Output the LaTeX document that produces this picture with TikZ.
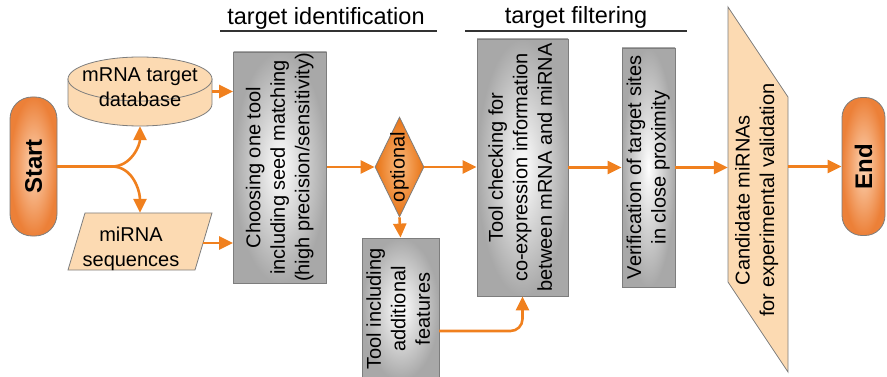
\documentclass[tikz,border=0pt]{standalone}
\usepackage{fontspec}
\setmainfont{Liberation Sans}
\usetikzlibrary{arrows.meta,shapes.geometric,calc}
\definecolor{arrorange}{RGB}{240,128,30}
\definecolor{pillout}{RGB}{236,128,56}
\definecolor{pillin}{RGB}{252,212,180}
\definecolor{dmout}{RGB}{232,115,20}
\definecolor{dmin}{RGB}{250,185,125}
\definecolor{peach}{RGB}{252,218,178}
\definecolor{boxgray}{RGB}{168,168,168}
\definecolor{edgegray}{RGB}{125,125,125}
\newcommand\rtext[1]{\rotatebox{90}{\begin{tabular}{@{}c@{}}#1\end{tabular}}}
\begin{document}
\begin{tikzpicture}[x=1pt,y=-1pt,
  arr/.style={draw=arrorange, line width=2.6pt, -{Triangle[length=14pt,width=13pt]}},
  plainline/.style={draw=arrorange, line width=2.6pt},
  graybox/.style={draw=edgegray, line width=0.8pt, inner color=white, outer color=boxgray, inner sep=0pt, align=center,
    font=\fontsize{20}{24.5}\selectfont},
  pill/.style={draw=edgegray, line width=0.8pt, inner color=pillin, outer color=pillout, inner sep=0pt,
    font=\fontsize{24}{28}\selectfont\bfseries},
  peachshape/.style={draw=edgegray, line width=0.8pt, fill=peach},
  ghost/.style={draw=none, inner sep=0pt},
  txt/.style={font=\fontsize{20}{24.5}\selectfont, align=center, inner sep=0pt},
  titletxt/.style={font=\fontsize{23.5}{28}\selectfont, inner sep=0pt},
  uline/.style={draw=black!80, line width=1.2pt}]
\useasboundingbox (0,0) rectangle (887,377);

% titles
\node[titletxt] (t1) at (326,18) {target identification};
\node[titletxt] (t2) at (576,17) {target filtering};
\draw[uline] (220,31) -- (437,31);
\draw[uline] (465,31) -- (687,31);

% start / end
\node[pill, rounded corners=22pt, minimum width=47, minimum height=139] (start) at (33.5,166.5) {\rotatebox{90}{Start}};
\node[pill, rounded corners=20pt, minimum width=43, minimum height=138] (end) at (863.5,166.5) {\rotatebox{90}{End}};

% database cylinder
\path[peachshape] (68,79) -- (68,104) arc[start angle=180, end angle=0, x radius=72, y radius=22] -- (212,79) -- cycle;
\path[peachshape] (140,79) ellipse[x radius=72, y radius=22];
\node[ghost, minimum width=144, minimum height=69] (db) at (140,91.5) {};
\node[txt] (dbtext) at (140,87) {mRNA target\\database};

% miRNA parallelogram
\path[peachshape] (85,213) -- (212,213) -- (195,270) -- (68,270) -- cycle;
\node[ghost, minimum width=144, minimum height=57] (mirna) at (140,241.5) {};
\node[txt] (mirnatext) at (131,249) {miRNA\\sequences};
\coordinate (mout) at (203,243);

% gray boxes
\node[graybox, minimum width=93, minimum height=231] (choose) at (280,167.5)
  {\rtext{Choosing one tool\\including seed matching\\(high precision/sensitivity)}};
\node[graybox, minimum width=77, minimum height=142] (tool) at (400.5,309)
  {\rtext{Tool including\\additional\\features}};
\node[graybox, minimum width=91, minimum height=257] (check) at (522.5,167.5)
  {\rtext{Tool checking for\\co-expression information\\between mRNA and miRNA}};
\node[graybox, minimum width=53, minimum height=239] (verif) at (648.5,167.5)
  {\rtext{Verification of target sites\\in close proximity}};
\coordinate (tout) at (439,331);

% diamond
\node[diamond, draw=edgegray, line width=0.8pt, inner color=dmin, outer color=dmout, inner sep=0pt,
  minimum width=49, minimum height=100] (opt) at (399.5,167) {};
\node[txt] (opttext) at (399.5,167) {\rotatebox{90}{optional}};

% candidate parallelogram
\path[peachshape] (728,7) -- (788,97) -- (788,372) -- (728,282) -- cycle;
\node[ghost, minimum width=60, minimum height=20] (cand) at (758,200) {};
\node[txt] (candtext) at (757,200) {\rtext{Candidate miRNAs\\for experimental validation}};

% connectors
\coordinate (br) at (112,166.5);
\draw[plainline] (start.east) -- (br);
\draw[arr] (br) to[out=0,in=-90] (db.south);
\draw[arr] (br) to[out=0,in=90] (mirna.north);
\draw[arr] (db.east) -- (db.east -| choose.west);
\draw[arr] (mout) -- (mout -| choose.west);
\draw[arr] (choose.east |- opt.west) -- (opt.west);
\draw[arr] (opt.east) -- (opt.east -| check.west);
\draw[arr] (opt.south) -- (tool.north);
\draw[arr, rounded corners=12pt] (tout) -| (check.south);
\draw[arr] (check.east |- verif.west) -- (verif.west);
\draw[arr] (verif.east) -- (verif.east -| cand.west);
\draw[arr] (cand.east |- end.west) -- (end.west);
\end{tikzpicture}
\end{document}
